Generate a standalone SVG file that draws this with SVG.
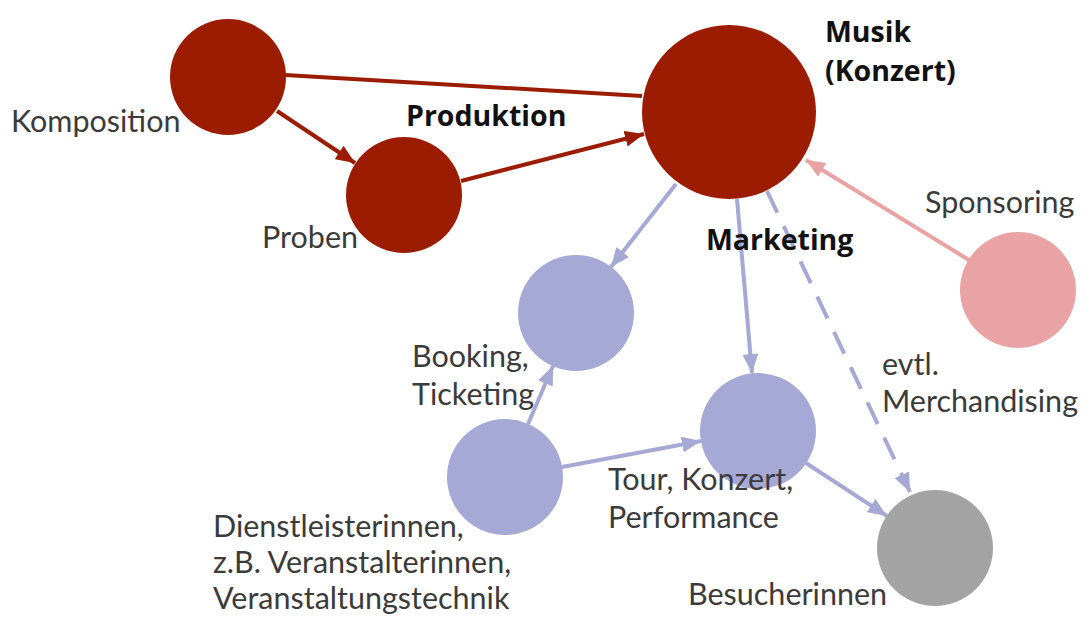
<svg xmlns="http://www.w3.org/2000/svg" width="1091" height="621" viewBox="0 0 1091 621">
<style>
.red{fill:#9b1c00}
.blue{fill:#a6a8d5}
.pink{fill:#e9a3a4}
.gray{fill:#a3a3a3}
.lbl{font-family:Lato,"Open Sans",sans-serif;font-size:30.5px;fill:#3b3b3b}
.bold{font-family:"Open Sans",Lato,sans-serif;font-size:28.5px;font-weight:bold;fill:#111}
.er{stroke:#9b1c00;stroke-width:4;fill:none}
.eb{stroke:#a6a8d5;stroke-width:4;fill:none}
.ep{stroke:#e9a3a4;stroke-width:4;fill:none}
</style>
<defs>
<marker id="ar" markerUnits="userSpaceOnUse" markerWidth="20" markerHeight="16" refX="19" refY="8" orient="auto"><path d="M0,0 L19,8 L0,16 Z" fill="#9b1c00"/></marker>
<marker id="ab" markerUnits="userSpaceOnUse" markerWidth="20" markerHeight="16" refX="19" refY="8" orient="auto"><path d="M0,0 L19,8 L0,16 Z" fill="#a6a8d5"/></marker>
<marker id="ap" markerUnits="userSpaceOnUse" markerWidth="20" markerHeight="16" refX="19" refY="8" orient="auto"><path d="M0,0 L19,8 L0,16 Z" fill="#e9a3a4"/></marker>
</defs>
<rect width="1091" height="621" fill="#fff"/>
<g id="connectors">
<line class="er" x1="285" y1="75" x2="642" y2="96"/>
<line class="er" x1="277" y1="111" x2="355" y2="163" marker-end="url(#ar)"/>
<line class="er" x1="461" y1="181" x2="644" y2="134" marker-end="url(#ar)"/>
<line class="eb" x1="676" y1="184" x2="611" y2="267" marker-end="url(#ab)"/>
<line class="eb" x1="737" y1="199" x2="752" y2="373" marker-end="url(#ab)"/>
<line class="eb" x1="767" y1="191" x2="910" y2="492" stroke-dasharray="24 15" marker-end="url(#ab)"/>
<line class="ep" x1="969" y1="260" x2="806" y2="160" marker-end="url(#ap)"/>
<line class="eb" x1="528" y1="424" x2="553" y2="366" marker-end="url(#ab)"/>
<line class="eb" x1="562" y1="467" x2="701" y2="441" marker-end="url(#ab)"/>
<line class="eb" x1="806" y1="463" x2="887" y2="516" marker-end="url(#ab)"/>
</g>
<g id="komposition"><circle class="red" cx="228" cy="77" r="58"/><text class="lbl" x="11" y="132">Komposition</text></g>
<g id="proben"><circle class="red" cx="404" cy="195" r="58"/><text class="lbl" x="262" y="248">Proben</text></g>
<g id="produktion"><text class="bold" x="406" y="126">Produktion</text></g>
<g id="musik"><circle class="red" cx="729" cy="112" r="87"/><text class="bold" x="825" y="42">Musik</text><text class="bold" x="825" y="81">(Konzert)</text></g>
<g id="marketing"><text class="bold" x="706" y="250">Marketing</text></g>
<g id="sponsoring"><circle class="pink" cx="1018" cy="290" r="58"/><text class="lbl" x="925" y="213">Sponsoring</text></g>
<g id="booking"><circle class="blue" cx="576" cy="313" r="58"/><text class="lbl" x="412" y="367">Booking,</text><text class="lbl" x="412" y="405">Ticketing</text></g>
<g id="tour"><circle class="blue" cx="758" cy="431" r="58"/><text class="lbl" x="608" y="490">Tour, Konzert,</text><text class="lbl" x="608" y="528">Performance</text></g>
<g id="merch"><text class="lbl" x="882" y="375">evtl.</text><text class="lbl" x="882" y="412">Merchandising</text></g>
<g id="dienstleister"><circle class="blue" cx="505" cy="477" r="58"/><text class="lbl" x="213" y="537">Dienstleisterinnen,</text><text class="lbl" x="213" y="573">z.B. Veranstalterinnen,</text><text class="lbl" x="213" y="609">Veranstaltungstechnik</text></g>
<g id="besucher"><circle class="gray" cx="935" cy="548" r="58"/><text class="lbl" x="688" y="605">Besucherinnen</text></g>
</svg>
